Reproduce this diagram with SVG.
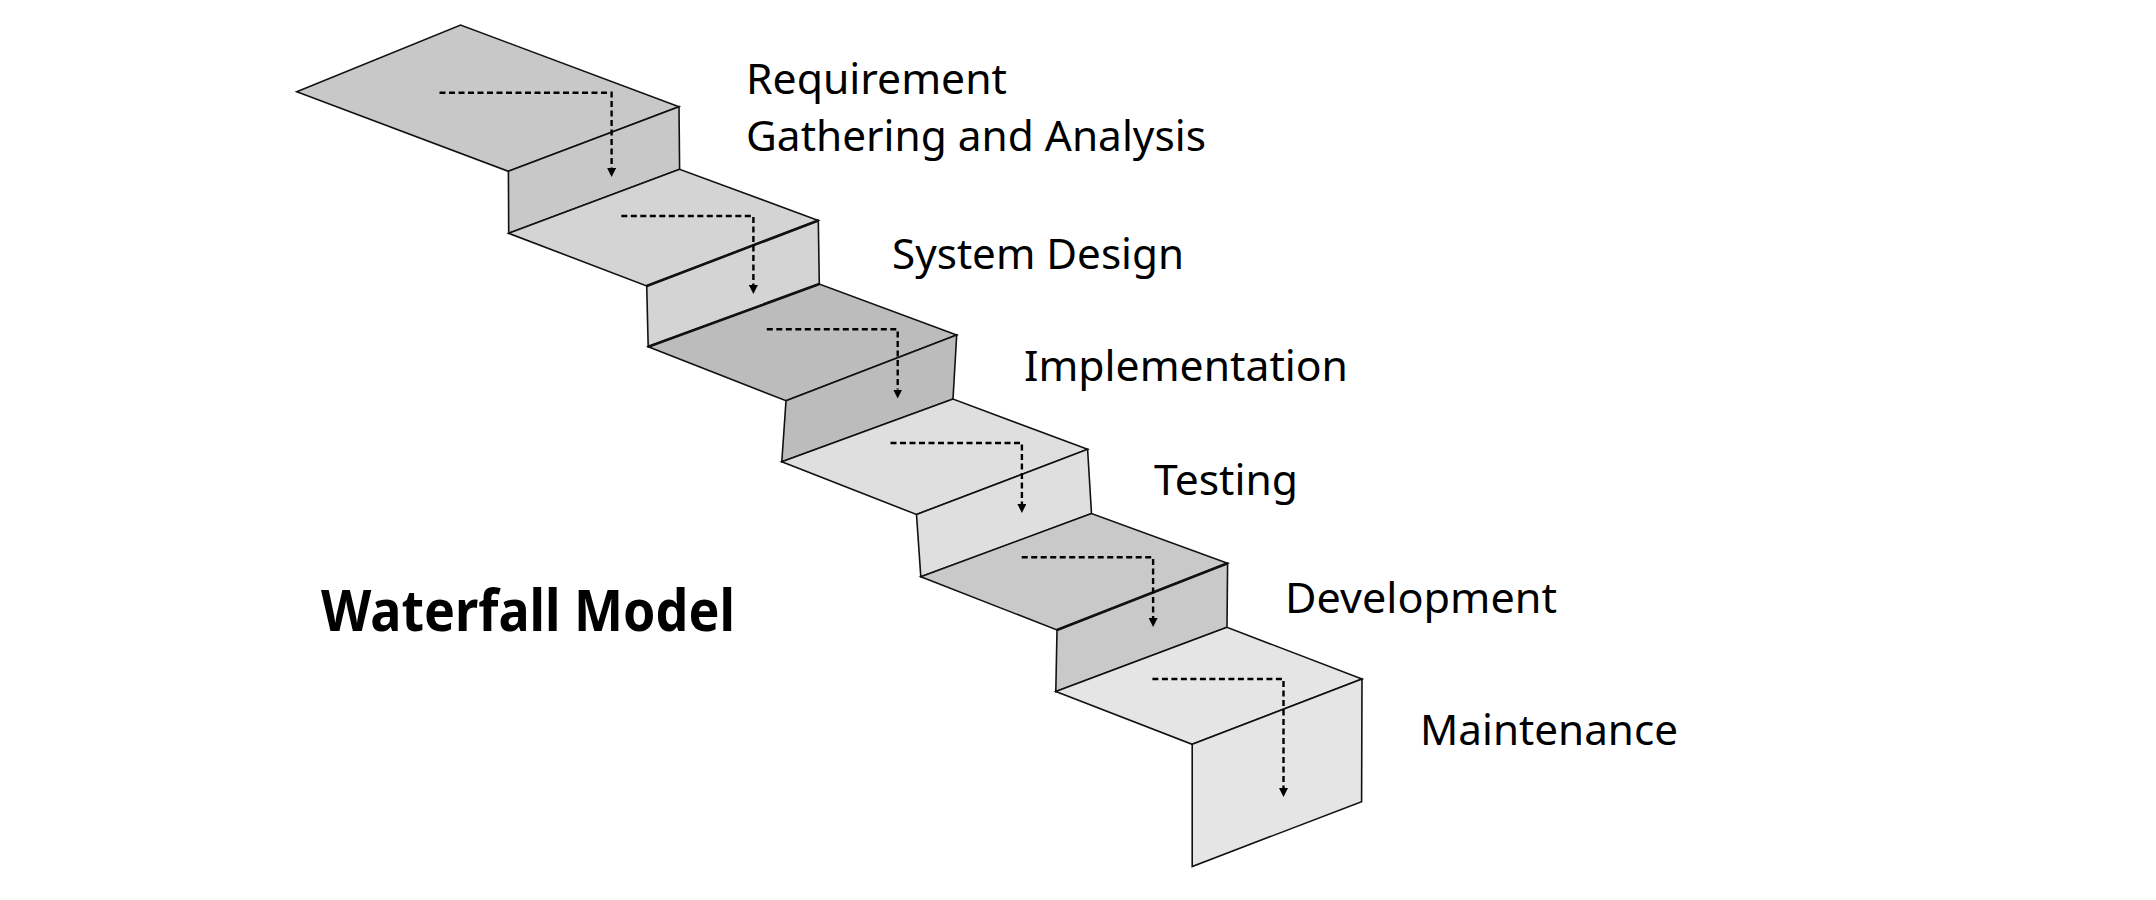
<svg xmlns="http://www.w3.org/2000/svg" width="2156" height="900" viewBox="0 0 2156 900">
<style>
  .face { stroke: #111; stroke-width: 1.6; stroke-linejoin: miter; }
  .s1 { fill: #c8c8c8; }
  .s2 { fill: #d4d4d4; }
  .s3 { fill: #bcbcbc; }
  .s4 { fill: #dfdfdf; }
  .s5 { fill: #c9c9c9; }
  .s6 { fill: #e5e5e5; }
  .edge { fill: none; stroke: #111; stroke-width: 2.6; }
  .flow { fill: none; stroke: #000; stroke-width: 2.4; stroke-dasharray: 6 3.5; marker-end: url(#arrow); }
  .label { font-family: "Noto Sans", "Open Sans", sans-serif; font-size: 42px; fill: #000; }
  .title { font-family: "Noto Sans", "Open Sans", sans-serif; font-size: 57px; font-weight: bold; fill: #000; }
</style>
<defs>
  <marker id="arrow" viewBox="0 0 10 10" refX="0" refY="5" markerUnits="userSpaceOnUse" markerWidth="9" markerHeight="9" orient="auto">
    <path d="M0,0 L10,5 L0,10 z" fill="#000"/>
  </marker>
</defs>
<rect x="0" y="0" width="2156" height="900" fill="#fff"/>

<g id="step-1">
  <polygon class="face s1" points="296.7,91.7 460.6,25 679,106.7 508.4,171.3"/>
  <polygon class="face s1" points="508.4,171.3 679,106.7 679.6,169.3 508.7,233.3"/>
  <text class="label" x="746" y="93.5" textLength="261" lengthAdjust="spacingAndGlyphs">Requirement</text>
  <text class="label" x="746" y="150.5" textLength="460" lengthAdjust="spacingAndGlyphs">Gathering and Analysis</text>
</g>

<g id="step-2">
  <polygon class="face s2" points="508.7,233.3 679.6,169.3 818.3,220.5 646.7,286"/>
  <polygon class="face s2" points="646.7,286 818.3,220.5 819.3,284 648.2,346.7"/>
  <line class="edge" x1="646.7" y1="286" x2="818.3" y2="220.5"/>
  <text class="label" x="892" y="268.5" textLength="292" lengthAdjust="spacingAndGlyphs">System Design</text>
</g>

<g id="step-3">
  <polygon class="face s3" points="648.2,346.7 819.3,284 956.7,335 786,400.7"/>
  <polygon class="face s3" points="786,400.7 956.7,335 953,399 781.8,461.7"/>
  <line class="edge" x1="648.2" y1="346.7" x2="819.3" y2="284"/>
  <text class="label" x="1024" y="380.5" textLength="324" lengthAdjust="spacingAndGlyphs">Implementation</text>
</g>

<g id="step-4">
  <polygon class="face s4" points="781.8,461.7 953,399 1087.6,449.3 916.5,514.5"/>
  <polygon class="face s4" points="916.5,514.5 1087.6,449.3 1091.5,513.6 920.8,576.7"/>
  <text class="label" x="1154" y="494.5" textLength="144" lengthAdjust="spacingAndGlyphs">Testing</text>
</g>

<g id="step-5">
  <polygon class="face s5" points="920.8,576.7 1091.5,513.6 1227.6,563.3 1057,630"/>
  <polygon class="face s5" points="1057,630 1227.6,563.3 1227,627.3 1055.8,691.5"/>
  <line class="edge" x1="1057" y1="630" x2="1227.6" y2="563.3"/>
  <text class="label" x="1285" y="613" textLength="272" lengthAdjust="spacingAndGlyphs">Development</text>
</g>

<g id="step-6">
  <polygon class="face s6" points="1055.8,691.5 1227,627.3 1362,679 1192.2,744.3"/>
  <polygon class="face s6" points="1192.2,744.3 1362,679 1361.6,801.7 1192.2,866.5"/>
  <text class="label" x="1420" y="744.5" textLength="258" lengthAdjust="spacingAndGlyphs">Maintenance</text>
</g>

<g id="connectors">
  <path class="flow" d="M439.5,92.7 H611.6 V168"/>
  <path class="flow" d="M621.3,216 H753.4 V285"/>
  <path class="flow" d="M766.8,329.3 H897.7 V389.5"/>
  <path class="flow" d="M890.5,443 H1021.9 V504"/>
  <path class="flow" d="M1021.7,557.3 H1153.1 V618"/>
  <path class="flow" d="M1152.4,679 H1283.5 V788"/>
</g>

<g id="title">
  <text class="title" x="321" y="631" textLength="414" lengthAdjust="spacingAndGlyphs">Waterfall Model</text>
</g>
</svg>
